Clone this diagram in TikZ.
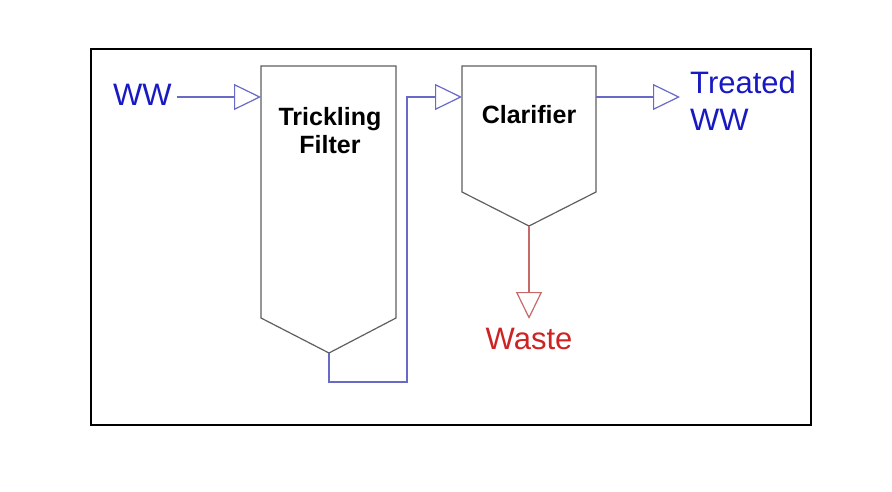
\documentclass[tikz,border=0pt]{standalone}
\usepackage{fontspec}
\setmainfont{Liberation Sans}
\usetikzlibrary{arrows.meta}
\definecolor{flowblue}{RGB}{105,105,200}
\definecolor{txtblue}{RGB}{25,25,195}
\definecolor{flowred}{RGB}{200,105,105}
\definecolor{txtred}{RGB}{205,35,35}
\definecolor{vesselgray}{RGB}{95,95,95}
\tikzset{
  vessel/.style={draw=vesselgray, line width=1.2pt, line join=miter},
  tip/.style={-{Triangle[open,length=27pt,width=26pt]}},
  bflow/.style={draw=flowblue, line width=1.2pt, tip},
  rflow/.style={draw=flowred, line width=1.2pt, tip},
  bigtxt/.style={inner sep=0pt, font=\fontsize{31}{36.5}\selectfont},
  lbl/.style={inner sep=0pt, align=center, font=\fontsize{25}{28.5}\selectfont\bfseries}
}
\begin{document}
\begin{tikzpicture}[x=1pt,y=-1pt]
\useasboundingbox (0,0) rectangle (892,492);
\fill[white] (0,0) rectangle (892,492);
\draw[black, line width=1.3pt] (91,49) rectangle (811,425);
% Trickling filter
\coordinate (tfTL) at (261,66);
\coordinate (tfTR) at (396,66);
\coordinate (tfBR) at (396,318);
\coordinate (tfBL) at (261,318);
\coordinate (tfapex) at (329,353);
\coordinate (tfin) at (261,97);
\draw[vessel] (tfTL) -- (tfTR) -- (tfBR) -- (tfapex) -- (tfBL) -- cycle;
\node[lbl, anchor=north] (tf) at (330,107) {Trickling\\Filter};
% Clarifier
\coordinate (clTL) at (462,66);
\coordinate (clTR) at (596,66);
\coordinate (clBR) at (596,192);
\coordinate (clBL) at (462,192);
\coordinate (clapex) at (529,226);
\coordinate (clin) at (462,97);
\coordinate (clout) at (596,97);
\draw[vessel] (clTL) -- (clTR) -- (clBR) -- (clapex) -- (clBL) -- cycle;
\node[lbl, anchor=base] (cl) at (529,123.3) {Clarifier};
% Texts
\node[bigtxt, txtblue, anchor=base west] (ww) at (113,106) {WW};
\node[bigtxt, txtblue, anchor=north west, align=left] (tww) at (690,71) {Treated\\WW};
\node[bigtxt, txtred, anchor=base] (waste) at (529,349) {Waste};
% Flows
\coordinate (bend) at (407,382);
\coordinate (tout) at (680,97);
\coordinate (wend) at (529,319);
\draw[bflow] (ww.east |- tfin) ++(5,0) -- (tfin);
\draw[bflow] (tfapex) |- (bend) |- (clin);
\draw[bflow] (clout) -- (tout);
\draw[rflow] (clapex) -- (wend);
\end{tikzpicture}
\end{document}
